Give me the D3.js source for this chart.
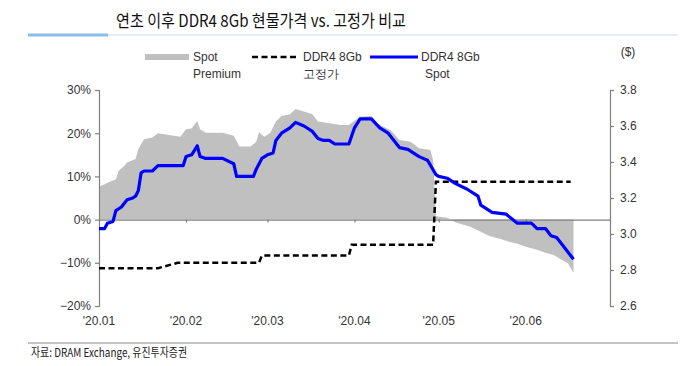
<!DOCTYPE html>
<html>
<head>
<meta charset="utf-8">
<script src="https://cdn.jsdelivr.net/npm/d3@7"></script>
<style>
  body { margin: 0; background: #fff; }
  text { font-family: "Liberation Sans", Arial, sans-serif; }
  .kr { font-family: "Noto Sans CJK KR", "Liberation Sans", sans-serif; }
</style>
</head>
<body>
<svg id="chart" width="680" height="366"></svg>
<script>
// spot price of DDR4 8Gb ($)
var spotDates = ["2020-01-01","2020-01-03","2020-01-04","2020-01-06","2020-01-07","2020-01-09","2020-01-11","2020-01-13","2020-01-14","2020-01-15","2020-01-16","2020-01-17","2020-01-20","2020-01-22","2020-01-31","2020-02-01","2020-02-03","2020-02-05","2020-02-06","2020-02-08","2020-02-14","2020-02-18","2020-02-19","2020-02-25","2020-02-26","2020-02-28","2020-03-01","2020-03-03","2020-03-04","2020-03-06","2020-03-09","2020-03-11","2020-03-14","2020-03-17","2020-03-19","2020-03-21","2020-03-23","2020-03-25","2020-03-30","2020-04-01","2020-04-03","2020-04-07","2020-04-10","2020-04-13","2020-04-17","2020-04-20","2020-04-24","2020-04-27","2020-04-30","2020-05-01","2020-05-04","2020-05-07","2020-05-11","2020-05-15","2020-05-16","2020-05-20","2020-05-25","2020-05-29","2020-06-03","2020-06-05","2020-06-08","2020-06-10","2020-06-12","2020-06-18"];
var spotValues = [3.03,3.03,3.06,3.07,3.13,3.15,3.19,3.20,3.21,3.24,3.34,3.35,3.35,3.38,3.38,3.43,3.44,3.49,3.43,3.42,3.42,3.39,3.32,3.32,3.36,3.42,3.44,3.45,3.52,3.56,3.59,3.62,3.60,3.57,3.53,3.52,3.52,3.50,3.50,3.59,3.64,3.64,3.59,3.56,3.48,3.47,3.43,3.41,3.33,3.32,3.31,3.28,3.25,3.21,3.16,3.12,3.11,3.06,3.06,3.03,3.03,2.99,2.98,2.86];

// fixed (contract) price ($)
var fixedDates = ["2020-01-01","2020-01-22","2020-01-29","2020-02-27","2020-02-28","2020-03-30","2020-03-31","2020-04-29","2020-04-30","2020-06-17"];
var fixedValues = [2.81,2.81,2.84,2.84,2.88,2.88,2.94,2.94,3.29,3.29];

// spot premium (%)
var premiumDates = ["2020-01-01","2020-01-03","2020-01-05","2020-01-07","2020-01-08","2020-01-10","2020-01-11","2020-01-14","2020-01-15","2020-01-17","2020-01-20","2020-01-22","2020-01-30","2020-02-01","2020-02-03","2020-02-05","2020-02-06","2020-02-08","2020-02-14","2020-02-18","2020-02-20","2020-02-24","2020-02-26","2020-02-27","2020-02-28","2020-02-29","2020-03-02","2020-03-04","2020-03-06","2020-03-09","2020-03-11","2020-03-14","2020-03-17","2020-03-19","2020-03-23","2020-03-27","2020-03-30","2020-04-01","2020-04-03","2020-04-07","2020-04-09","2020-04-14","2020-04-17","2020-04-21","2020-04-24","2020-04-28","2020-04-29","2020-04-30","2020-05-04","2020-05-07","2020-05-12","2020-05-16","2020-05-19","2020-05-23","2020-05-26","2020-05-29","2020-06-01","2020-06-05","2020-06-08","2020-06-11","2020-06-13","2020-06-16","2020-06-18"];
var premiumValues = [7.6,8.2,8.8,9.3,11.3,12.4,13.2,14.0,16.3,18.6,19.0,20.0,19.2,20.9,21.1,22.8,20.9,20.1,20.1,19.4,16.9,16.9,18.0,20.3,19.6,19.2,20.1,22.7,24.0,24.4,25.6,25.0,24.4,22.7,22.3,21.9,21.9,22.9,23.8,24.0,22.3,20.6,18.4,18.0,16.5,16.1,13.8,0.8,0.4,-0.7,-1.6,-2.8,-3.8,-4.5,-5.1,-5.6,-6.3,-7.0,-7.7,-8.2,-9.0,-10.1,-12.3];

var monthDates = ["2020-01-01","2020-02-01","2020-03-01","2020-04-01","2020-05-01","2020-06-01"];
var monthLabels = ["'20.01","'20.02","'20.03","'20.04","'20.05","'20.06"];
var leftTicks = [-20,-10,0,10,20,30];
var rightTicks = [2.6,2.8,3.0,3.2,3.4,3.6,3.8];

var parse = d3.timeParse("%Y-%m-%d");
var svg = d3.select("#chart");

var x = d3.scaleTime().domain([parse("2020-01-01"), parse("2020-07-01")]).range([99, 610]),
	yL = d3.scaleLinear().domain([-20, 30]).range([306, 90]),
	yR = d3.scaleLinear().domain([2.6, 3.8]).range([306, 90]);

var spot = spotDates.map(function(d, i) { return {date: parse(d), v: spotValues[i]}; }),
	fixed = fixedDates.map(function(d, i) { return {date: parse(d), v: fixedValues[i]}; }),
	premium = premiumDates.map(function(d, i) { return {date: parse(d), v: premiumValues[i]}; });

// title + header lines
svg.append("line").attr("x1", 28).attr("x2", 678).attr("y1", 35).attr("y2", 35)
	.attr("stroke", "#dbe8f5").attr("stroke-width", 1.5);
svg.append("line").attr("x1", 28).attr("x2", 108).attr("y1", 35).attr("y2", 35)
	.attr("stroke", "#8cbdea").attr("stroke-width", 3);
svg.append("text").attr("class", "kr").attr("x", 116).attr("y", 27)
	.attr("font-size", 17).attr("fill", "#111")
	.attr("textLength", 290).attr("lengthAdjust", "spacingAndGlyphs")
	.text("연초 이후 DDR4 8Gb 현물가격 vs. 고정가 비교");

// area (premium)
var area = d3.area()
	.x(function(d) { return x(d.date); })
	.y0(yL(0))
	.y1(function(d) { return yL(d.v); });
svg.append("path").datum(premium).attr("d", area).attr("fill", "#c0c0c0");

// axes
var gL = svg.append("g").attr("transform", "translate(99,0)")
	.call(d3.axisLeft(yL).tickValues(leftTicks).tickSize(4).tickPadding(4)
		.tickFormat(function(d) { return (d < 0 ? "\u2212" : "") + Math.abs(d) + "%"; }));
var gR = svg.append("g").attr("transform", "translate(610,0)")
	.call(d3.axisRight(yR).tickValues(rightTicks).tickSize(4).tickPadding(6)
		.tickFormat(d3.format(".1f")));
var gX = svg.append("g").attr("transform", "translate(0," + yL(0) + ")")
	.call(d3.axisBottom(x).tickValues(monthDates.slice(1).map(parse)).tickSize(3)
		.tickSizeOuter(0).tickFormat(""));

[gL, gR, gX].forEach(function(g) {
	g.selectAll("path, line").attr("stroke", "#808080").attr("stroke-width", 1.2);
	g.selectAll("text").attr("font-size", 12).attr("fill", "#333")
		.attr("font-family", "Liberation Sans, Arial, sans-serif");
});

svg.selectAll(".mlabel").data(monthDates).enter().append("text")
	.attr("class", "mlabel")
	.attr("x", function(d) { return x(parse(d)); })
	.attr("y", 325).attr("text-anchor", "middle")
	.attr("font-size", 12).attr("fill", "#333")
	.text(function(d, i) { return monthLabels[i]; });

// lines
var lineR = d3.line()
	.x(function(d) { return x(d.date); })
	.y(function(d) { return yR(d.v); });
svg.append("path").datum(fixed).attr("d", lineR).attr("fill", "none")
	.attr("stroke", "#000").attr("stroke-width", 2.5).attr("stroke-dasharray", "6,3.5");
svg.append("path").datum(spot).attr("d", lineR).attr("fill", "none")
	.attr("stroke", "#0000ff").attr("stroke-width", 3.2).attr("stroke-linejoin", "round");

// legend
var legend = [
	{type: "area", x: 145, l1: "Spot", l2: "Premium"},
	{type: "dash", x: 252, l1: "DDR4 8Gb", l2: "고정가"},
	{type: "line", x: 370, l1: "DDR4 8Gb", l2: "Spot"}
];
var lg = svg.selectAll(".leg").data(legend).enter().append("g").attr("class", "leg")
	.attr("transform", function(d) { return "translate(" + d.x + ",0)"; });
lg.filter(function(d) { return d.type == "area"; }).append("rect")
	.attr("x", 0).attr("y", 54).attr("width", 44).attr("height", 6).attr("fill", "#c0c0c0");
lg.filter(function(d) { return d.type == "dash"; }).append("line")
	.attr("x1", 0).attr("x2", 46).attr("y1", 57).attr("y2", 57)
	.attr("stroke", "#000").attr("stroke-width", 2.5).attr("stroke-dasharray", "6,3.5");
lg.filter(function(d) { return d.type == "line"; }).append("line")
	.attr("x1", 0).attr("x2", 48).attr("y1", 57).attr("y2", 57)
	.attr("stroke", "#0000ff").attr("stroke-width", 3);
lg.append("text").attr("x", function(d) { return d.type == "area" ? 48 : 51; }).attr("y", 61)
	.attr("font-size", 12).attr("fill", "#333").text(function(d) { return d.l1; });
lg.append("text")
	.attr("x", function(d) { return d.type == "area" ? 48 : (d.type == "line" ? 55 : 51); })
	.attr("y", 78)
	.attr("font-size", 12).attr("fill", "#333").text(function(d) { return d.l2; });

svg.append("text").attr("x", 628).attr("y", 56).attr("text-anchor", "middle")
	.attr("font-size", 12).attr("fill", "#333").text("($)");

// source
svg.append("line").attr("x1", 28).attr("x2", 678).attr("y1", 343).attr("y2", 343)
	.attr("stroke", "#b0b0b0").attr("stroke-width", 1.5);
svg.append("text").attr("class", "kr").attr("x", 31).attr("y", 357)
	.attr("font-size", 12).attr("fill", "#222")
	.attr("textLength", 156).attr("lengthAdjust", "spacingAndGlyphs")
	.text("자료: DRAM Exchange, 유진투자증권");
</script>
</body>
</html>
